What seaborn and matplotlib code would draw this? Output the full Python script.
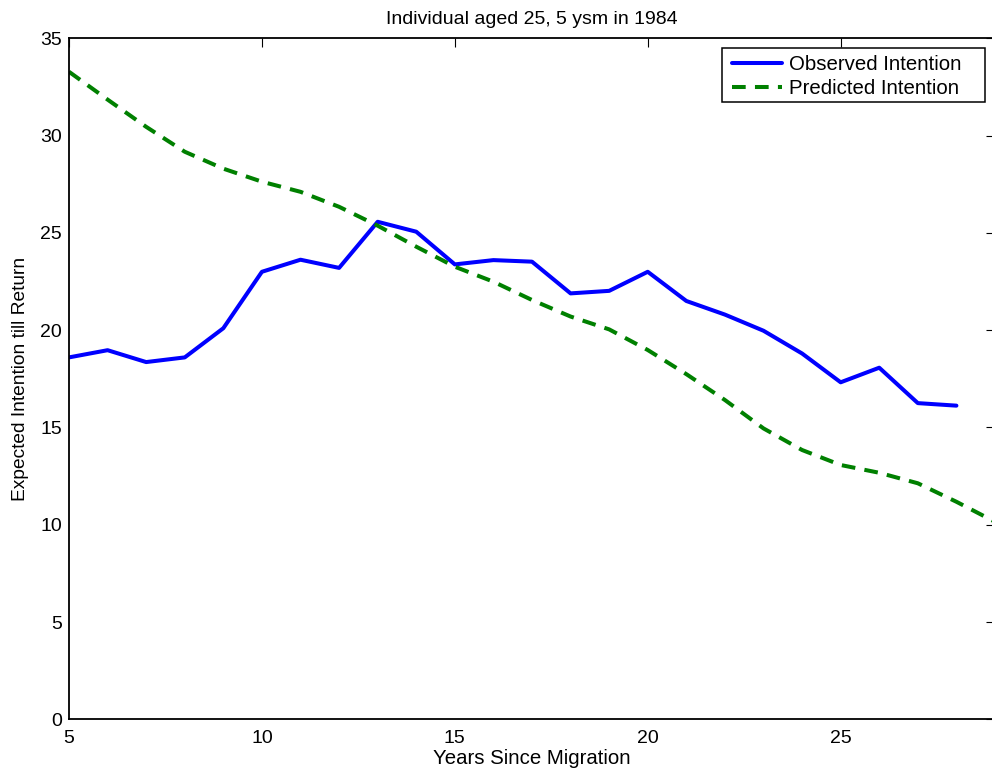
import numpy as np
import pandas as pd
import matplotlib
matplotlib.use("Agg")
import matplotlib.pyplot as plt
from matplotlib.patches import Rectangle
import seaborn as sns

# Data
years_obs = list(range(5, 29))
observed = [18.6, 18.97, 18.36, 18.6, 20.1, 23.0, 23.62, 23.2, 25.57, 25.06,
            23.38, 23.6, 23.52, 21.89, 22.02, 23.0, 21.5, 20.8, 19.97, 18.8,
            17.32, 18.07, 16.25, 16.12]
years_pred = list(range(5, 30))
predicted = [33.28, 31.85, 30.45, 29.17, 28.3, 27.63, 27.11, 26.34, 25.37, 24.29,
             23.26, 22.49, 21.55, 20.7, 20.04, 18.98, 17.74, 16.41, 14.95, 13.84,
             13.07, 12.67, 12.13, 11.18, 10.15]

title = "Individual aged 25, 5 ysm in 1984"
xlabel = "Years Since Migration"
ylabel = "Expected Intention till Return"
xticks = [5, 10, 15, 20, 25]
yticks = [0, 5, 10, 15, 20, 25, 30, 35]

sns.set_theme(style="white")
plt.rcParams['font.family'] = ['Liberation Sans', 'DejaVu Sans']
plt.rcParams['text.color'] = 'black'
plt.rcParams['axes.labelcolor'] = 'black'

fig = plt.figure(figsize=(9.92, 7.75), dpi=100)
ax = fig.add_axes([69/992, (775-719.3)/775, (995-69)/992, (719.3-38.3)/775])

sns.lineplot(x=years_obs, y=observed, ax=ax, color="#0000FF", linewidth=2.9,
             label="Observed Intention")
sns.lineplot(x=years_pred, y=predicted, ax=ax, color="#008000", linewidth=2.9,
             label="Predicted Intention")
ax.lines[1].set_dashes((3.4, 2.3))

ax.set_xlim(5, 29)
ax.set_ylim(0, 35)
ax.set_xticks(xticks)
ax.set_yticks(yticks)
ax.tick_params(direction="in", length=6.5, width=0.8, top=True, right=True,
               labelsize=14, colors="black")
ax.tick_params(axis="x", pad=8)
ax.tick_params(axis="y", pad=5)
for s in ax.spines.values():
    s.set_visible(True)
    s.set_color("black")
    s.set_linewidth(1.3)

ax.set_title(title, fontsize=14, pad=10.5, color="black")
ax.set_xlabel(xlabel, fontsize=14.7, labelpad=1)
ax.set_ylabel(ylabel, fontsize=13.8, labelpad=8)

# Legend box (MATLAB-style, wider than its content)
ax.add_patch(Rectangle((0.7052, 0.9065), 0.284, 0.0793, transform=ax.transAxes,
                       facecolor="white", edgecolor="black", linewidth=1.1,
                       zorder=4.9))
leg = ax.legend(loc="upper left", bbox_to_anchor=(0.7052, 0.9905),
                fontsize=14.7, frameon=False, handlelength=2.45, borderpad=0.49,
                labelspacing=0.26, handletextpad=0.34, borderaxespad=0)
leg.set_zorder(5)
for t in leg.get_texts():
    t.set_color("black")

fig.savefig("out.png", dpi=100)
